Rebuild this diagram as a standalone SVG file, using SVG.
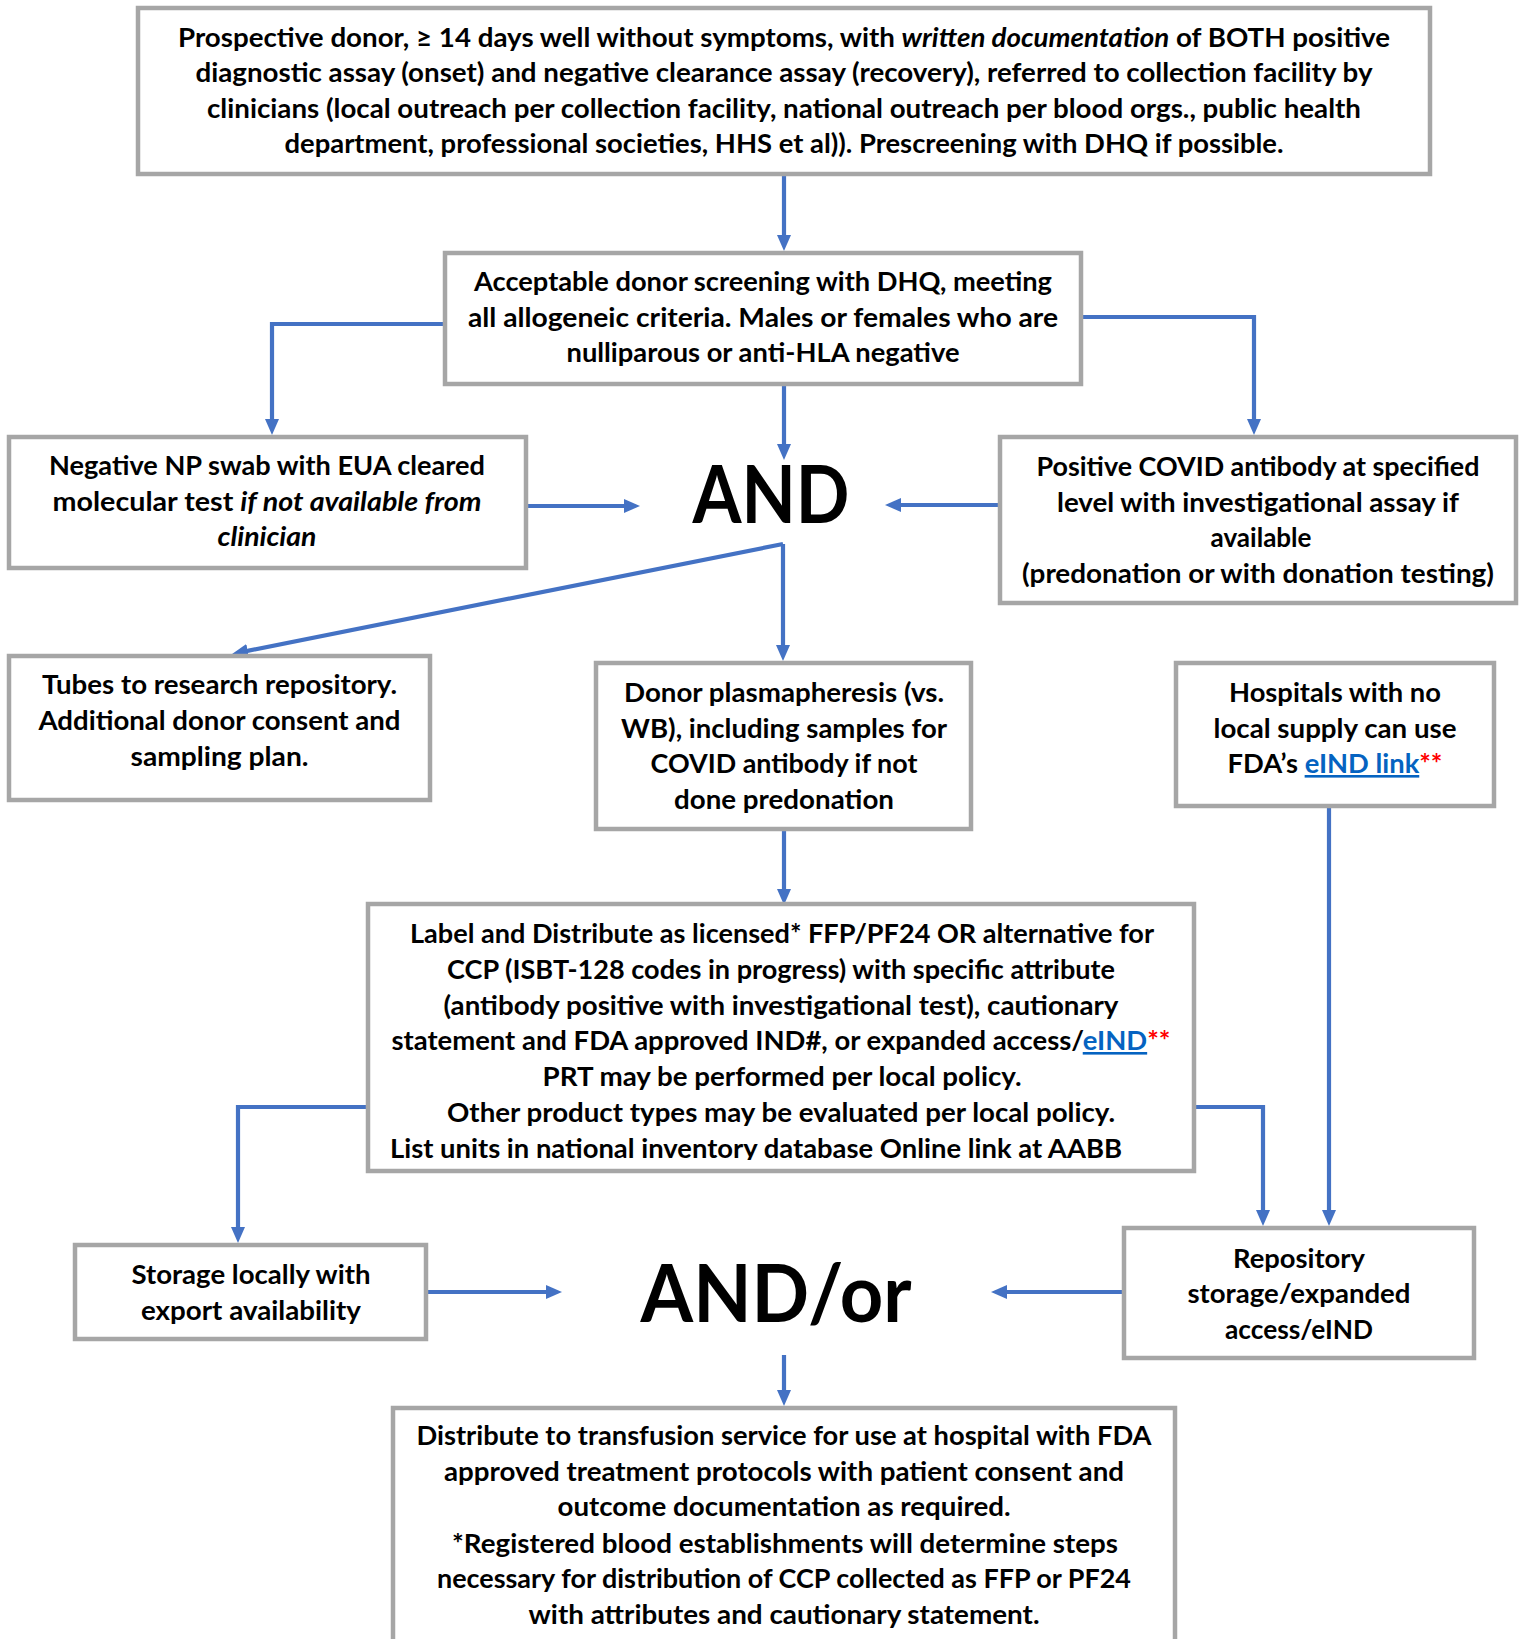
<svg xmlns="http://www.w3.org/2000/svg" width="1523" height="1639" viewBox="0 0 1523 1639">
<style>
.box{fill:#fff;stroke:#A6A6A6;stroke-width:4.5}
.t{font-family:Lato,"Liberation Sans",sans-serif;font-weight:700;font-size:26px;fill:#000;text-anchor:middle}
.big{font-size:80px}
.c{fill:none;stroke:#4472C4;stroke-width:4.2}
.i{font-style:italic}
.lk{fill:#0563C1;text-decoration:underline}
.st{fill:#FF0000}
</style>
<defs>
<marker id="ah" markerUnits="userSpaceOnUse" markerWidth="16" markerHeight="14" refX="4" refY="7" orient="auto">
<path d="M0,0 L16,7 L0,14 z" fill="#4472C4"/>
</marker>
<clipPath id="labelClip"><rect x="368" y="904" width="826" height="256"/></clipPath>
</defs>
<rect width="1523" height="1639" fill="#fff"/>

<g id="connectors">
<path class="c" marker-end="url(#ah)" d="M784 176 V239"/>
<path class="c" marker-end="url(#ah)" d="M445 324 H272 V423"/>
<path class="c" marker-end="url(#ah)" d="M1081 317 H1254 V423"/>
<path class="c" marker-end="url(#ah)" d="M784 386 V448"/>
<path class="c" marker-end="url(#ah)" d="M526 506 H628"/>
<path class="c" marker-end="url(#ah)" d="M1000 505 H897"/>
<path class="c" marker-end="url(#ah)" d="M783 544 L243.8 651.6"/>
<path class="c" marker-end="url(#ah)" d="M783 544 V649"/>
<path class="c" marker-end="url(#ah)" d="M784 831 V893"/>
<path class="c" marker-end="url(#ah)" d="M1329 808 V1214"/>
<path class="c" marker-end="url(#ah)" d="M1196 1107 H1263 V1214"/>
<path class="c" marker-end="url(#ah)" d="M366 1107 H238 V1231"/>
<path class="c" marker-end="url(#ah)" d="M428 1292 H550"/>
<path class="c" marker-end="url(#ah)" d="M1122 1292 H1003"/>
<path class="c" marker-end="url(#ah)" d="M784 1355 V1394"/>
</g>

<g id="n-prospective">
<rect class="box" x="138" y="8" width="1292" height="166"/>
<text class="t" x="784" y="47" textLength="1212" lengthAdjust="spacingAndGlyphs">Prospective donor, ≥ 14 days well without symptoms, with <tspan class="i">written documentation</tspan> of BOTH positive</text>
<text class="t" x="784" y="82" textLength="1177" lengthAdjust="spacingAndGlyphs">diagnostic assay (onset) and negative clearance assay (recovery), referred to collection facility by</text>
<text class="t" x="784" y="118" textLength="1154" lengthAdjust="spacingAndGlyphs">clinicians (local outreach per collection facility, national outreach per blood orgs., public health</text>
<text class="t" x="784" y="153" textLength="999" lengthAdjust="spacingAndGlyphs">department, professional societies, HHS et al)). Prescreening with DHQ if possible.</text>
</g>

<g id="n-acceptable">
<rect class="box" x="445" y="253" width="636" height="131"/>
<text class="t" x="763" y="291" textLength="578" lengthAdjust="spacingAndGlyphs">Acceptable donor screening with DHQ, meeting</text>
<text class="t" x="763" y="327" textLength="590" lengthAdjust="spacingAndGlyphs">all allogeneic criteria. Males or  females who are</text>
<text class="t" x="763" y="362" textLength="393" lengthAdjust="spacingAndGlyphs">nulliparous or anti-HLA negative</text>
</g>

<g id="n-npswab">
<rect class="box" x="9" y="437" width="517" height="131"/>
<text class="t" x="267" y="475" textLength="436" lengthAdjust="spacingAndGlyphs">Negative NP swab with EUA cleared</text>
<text class="t" x="267" y="511" textLength="429" lengthAdjust="spacingAndGlyphs">molecular test <tspan class="i">if not available from</tspan></text>
<text class="t i" x="267" y="546" textLength="99" lengthAdjust="spacingAndGlyphs">clinician</text>
</g>

<g id="n-and">
<text class="t big" x="771" y="523" textLength="157" lengthAdjust="spacingAndGlyphs">AND</text>
</g>

<g id="n-antibody">
<rect class="box" x="1000" y="437" width="516" height="166"/>
<text class="t" x="1258" y="476" textLength="443" lengthAdjust="spacingAndGlyphs">Positive COVID antibody at specified</text>
<text class="t" x="1258" y="512" textLength="402" lengthAdjust="spacingAndGlyphs">level with investigational assay if</text>
<text class="t" x="1261" y="547" textLength="101" lengthAdjust="spacingAndGlyphs">available</text>
<text class="t" x="1258" y="583" textLength="472" lengthAdjust="spacingAndGlyphs">(predonation or with donation testing)</text>
</g>

<g id="n-tubes">
<rect class="box" x="9" y="656" width="421" height="144"/>
<text class="t" x="219.5" y="694" textLength="355" lengthAdjust="spacingAndGlyphs">Tubes to research repository.</text>
<text class="t" x="219.5" y="730" textLength="362" lengthAdjust="spacingAndGlyphs">Additional donor consent and</text>
<text class="t" x="219.5" y="766" textLength="178" lengthAdjust="spacingAndGlyphs">sampling plan.</text>
</g>

<g id="n-plasmapheresis">
<rect class="box" x="596" y="663" width="375" height="166"/>
<text class="t" x="784" y="702" textLength="320" lengthAdjust="spacingAndGlyphs">Donor plasmapheresis (vs.</text>
<text class="t" x="784" y="738" textLength="326" lengthAdjust="spacingAndGlyphs">WB), including samples for</text>
<text class="t" x="784" y="773" textLength="267" lengthAdjust="spacingAndGlyphs">COVID antibody if not</text>
<text class="t" x="784" y="809" textLength="220" lengthAdjust="spacingAndGlyphs">done predonation</text>
</g>

<g id="n-hospitals">
<rect class="box" x="1176" y="663" width="318" height="143"/>
<text class="t" x="1335" y="702" textLength="212" lengthAdjust="spacingAndGlyphs">Hospitals with no</text>
<text class="t" x="1335" y="738" textLength="243" lengthAdjust="spacingAndGlyphs">local supply can use</text>
<text class="t" x="1335" y="773" textLength="215" lengthAdjust="spacingAndGlyphs">FDA’s <tspan class="lk">eIND link</tspan><tspan class="st">**</tspan></text>
</g>

<g id="n-label">
<rect class="box" x="368" y="904" width="826" height="267"/>
<g clip-path="url(#labelClip)">
<text class="t" x="782" y="943" textLength="744" lengthAdjust="spacingAndGlyphs">Label and Distribute as licensed* FFP/PF24 OR alternative for</text>
<text class="t" x="781" y="979" textLength="668" lengthAdjust="spacingAndGlyphs">CCP (ISBT-128 codes in progress) with specific attribute</text>
<text class="t" x="781" y="1015" textLength="675" lengthAdjust="spacingAndGlyphs">(antibody positive with investigational test), cautionary</text>
<text class="t" x="781" y="1050" textLength="779" lengthAdjust="spacingAndGlyphs">statement and FDA approved IND#, or expanded access/<tspan class="lk">eIND</tspan><tspan class="st">**</tspan></text>
<text class="t" x="782" y="1086" textLength="479" lengthAdjust="spacingAndGlyphs">PRT may be performed per local policy.</text>
<text class="t" x="781" y="1122" textLength="668" lengthAdjust="spacingAndGlyphs">Other product types may be evaluated per local policy.</text>
<text class="t" x="756" y="1158" textLength="732" lengthAdjust="spacingAndGlyphs">List units in national inventory database Online link at AABB</text>
</g>
</g>

<g id="n-storage">
<rect class="box" x="75" y="1245" width="351" height="94"/>
<text class="t" x="251" y="1284" textLength="239" lengthAdjust="spacingAndGlyphs">Storage locally with</text>
<text class="t" x="251" y="1320" textLength="220" lengthAdjust="spacingAndGlyphs">export availability</text>
</g>

<g id="n-andor">
<text class="t big" x="776" y="1322" textLength="271" lengthAdjust="spacingAndGlyphs">AND/or</text>
</g>

<g id="n-repository">
<rect class="box" x="1124" y="1228" width="350" height="130"/>
<text class="t" x="1299" y="1268" textLength="132" lengthAdjust="spacingAndGlyphs">Repository</text>
<text class="t" x="1299" y="1303" textLength="223" lengthAdjust="spacingAndGlyphs">storage/expanded</text>
<text class="t" x="1299" y="1339" textLength="148" lengthAdjust="spacingAndGlyphs">access/eIND</text>
</g>

<g id="n-distribute">
<rect class="box" x="393" y="1408" width="782" height="260"/>
<text class="t" x="784" y="1445" textLength="735" lengthAdjust="spacingAndGlyphs">Distribute to transfusion service for use at hospital with FDA</text>
<text class="t" x="784" y="1481" textLength="680" lengthAdjust="spacingAndGlyphs">approved treatment protocols with patient consent and</text>
<text class="t" x="784" y="1516" textLength="453" lengthAdjust="spacingAndGlyphs">outcome documentation as required.</text>
<text class="t" x="785" y="1553" textLength="666" lengthAdjust="spacingAndGlyphs">*Registered blood establishments will determine steps</text>
<text class="t" x="784" y="1588" textLength="694" lengthAdjust="spacingAndGlyphs">necessary for distribution of CCP collected as FFP or PF24</text>
<text class="t" x="784" y="1624" textLength="511" lengthAdjust="spacingAndGlyphs">with attributes and cautionary statement.</text>
</g>
</svg>
